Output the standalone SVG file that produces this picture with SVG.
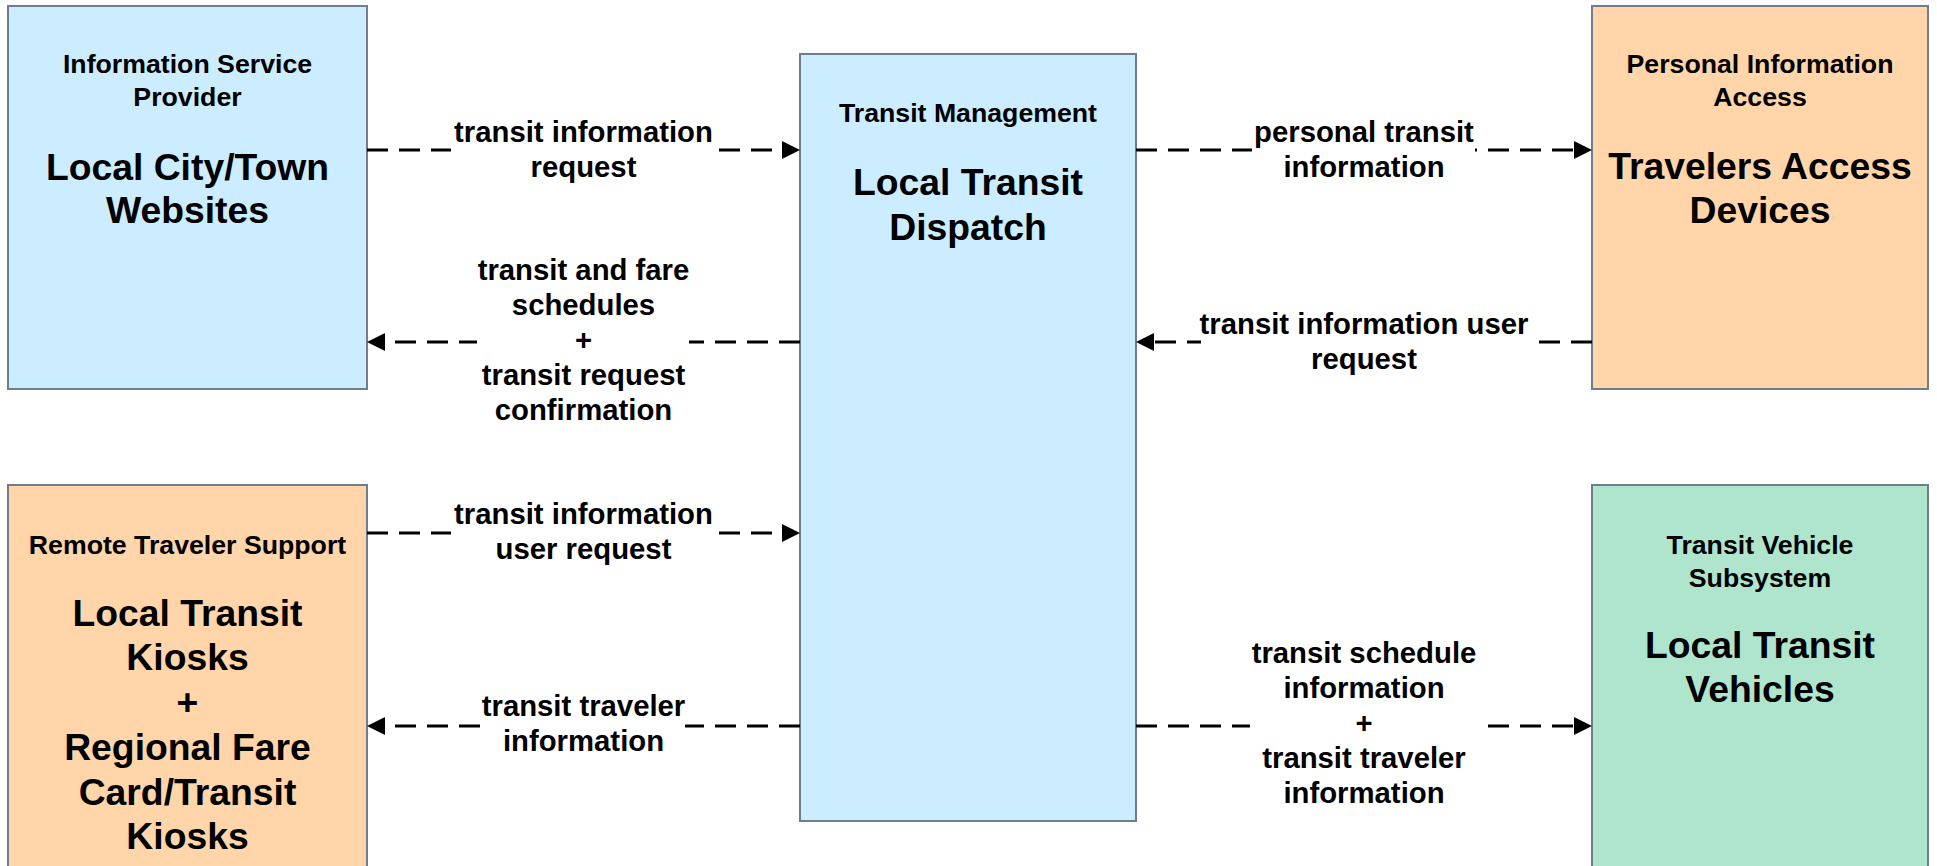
<svg xmlns="http://www.w3.org/2000/svg" width="1937" height="866" viewBox="0 0 1937 866">
<style>
.box{stroke:#6F7E8A;stroke-width:2}
.blue{fill:#CCECFF}
.peach{fill:#FFD5A9}
.green{fill:#AFE5CD}
text{font-family:"Liberation Sans",Arial,sans-serif;font-weight:bold;fill:#000;text-anchor:middle}
.cat{font-size:26.7px}
.name{font-size:37.3px}
.lbl{font-size:29.3px}
.flow{stroke:#000;stroke-width:3;stroke-dasharray:21 11;fill:none}
.bg{fill:#fff}
</style>
<defs>
<marker id="arr" markerUnits="userSpaceOnUse" markerWidth="18" markerHeight="18" viewBox="0 0 18 18" refX="0" refY="9" orient="auto">
<path d="M0,0 L18,9 L0,18 z" fill="#000"/>
</marker>
</defs>
<rect width="1937" height="866" fill="#fff"/>

<g id="isp">
<rect class="box blue" x="8" y="6" width="359" height="383"/>
<text class="cat" x="187.5" y="73">Information Service</text>
<text class="cat" x="187.5" y="106">Provider</text>
<text class="name" x="187.5" y="180">Local City/Town</text>
<text class="name" x="187.5" y="223">Websites</text>
</g>

<g id="rts">
<rect class="box peach" x="8" y="485" width="359" height="390"/>
<text class="cat" x="187.5" y="554">Remote Traveler Support</text>
<text class="name" x="187.5" y="626">Local Transit</text>
<text class="name" x="187.5" y="670">Kiosks</text>
<text class="name" x="187.5" y="715">+</text>
<text class="name" x="187.5" y="760">Regional Fare</text>
<text class="name" x="187.5" y="805">Card/Transit</text>
<text class="name" x="187.5" y="849">Kiosks</text>
</g>

<g id="tm">
<rect class="box blue" x="800" y="54" width="336" height="767"/>
<text class="cat" x="968" y="122">Transit Management</text>
<text class="name" x="968" y="195">Local Transit</text>
<text class="name" x="968" y="240">Dispatch</text>
</g>

<g id="pia">
<rect class="box peach" x="1592" y="6" width="336" height="383"/>
<text class="cat" x="1760" y="73">Personal Information</text>
<text class="cat" x="1760" y="106">Access</text>
<text class="name" x="1760" y="179">Travelers Access</text>
<text class="name" x="1760" y="223">Devices</text>
</g>

<g id="tvs">
<rect class="box green" x="1592" y="485" width="336" height="390"/>
<text class="cat" x="1760" y="554">Transit Vehicle</text>
<text class="cat" x="1760" y="587">Subsystem</text>
<text class="name" x="1760" y="658">Local Transit</text>
<text class="name" x="1760" y="702">Vehicles</text>
</g>

<g id="connectors">
<line class="flow" x1="367" y1="150" x2="782" y2="150" marker-end="url(#arr)"/>
<line class="flow" x1="800" y1="342" x2="385" y2="342" marker-end="url(#arr)"/>
<line class="flow" x1="1136" y1="150" x2="1574" y2="150" marker-end="url(#arr)"/>
<line class="flow" x1="1592" y1="342" x2="1154" y2="342" marker-end="url(#arr)"/>
<line class="flow" x1="367" y1="533" x2="782" y2="533" marker-end="url(#arr)"/>
<line class="flow" x1="800" y1="726" x2="385" y2="726" marker-end="url(#arr)"/>
<line class="flow" x1="1136" y1="726" x2="1574" y2="726" marker-end="url(#arr)"/>

<rect class="bg" x="451" y="144" width="267" height="12"/>
<text class="lbl" x="583.5" y="142">transit information</text>
<text class="lbl" x="583.5" y="177">request</text>

<rect class="bg" x="477" y="336" width="212" height="12"/>
<text class="lbl" x="583.5" y="280">transit and fare</text>
<text class="lbl" x="583.5" y="315">schedules</text>
<text class="lbl" x="583.5" y="350">+</text>
<text class="lbl" x="583.5" y="385">transit request</text>
<text class="lbl" x="583.5" y="420">confirmation</text>

<rect class="bg" x="1252" y="144" width="223" height="12"/>
<text class="lbl" x="1364" y="142">personal transit</text>
<text class="lbl" x="1364" y="177">information</text>

<rect class="bg" x="1201" y="336" width="329" height="12"/>
<text class="lbl" x="1364" y="334">transit information user</text>
<text class="lbl" x="1364" y="369">request</text>

<rect class="bg" x="451" y="527" width="267" height="12"/>
<text class="lbl" x="583.5" y="524">transit information</text>
<text class="lbl" x="583.5" y="559">user request</text>

<rect class="bg" x="481" y="720" width="204" height="12"/>
<text class="lbl" x="583.5" y="716">transit traveler</text>
<text class="lbl" x="583.5" y="751">information</text>

<rect class="bg" x="1250" y="720" width="238" height="12"/>
<text class="lbl" x="1364" y="663">transit schedule</text>
<text class="lbl" x="1364" y="698">information</text>
<text class="lbl" x="1364" y="733">+</text>
<text class="lbl" x="1364" y="768">transit traveler</text>
<text class="lbl" x="1364" y="803">information</text>
</g>
</svg>
